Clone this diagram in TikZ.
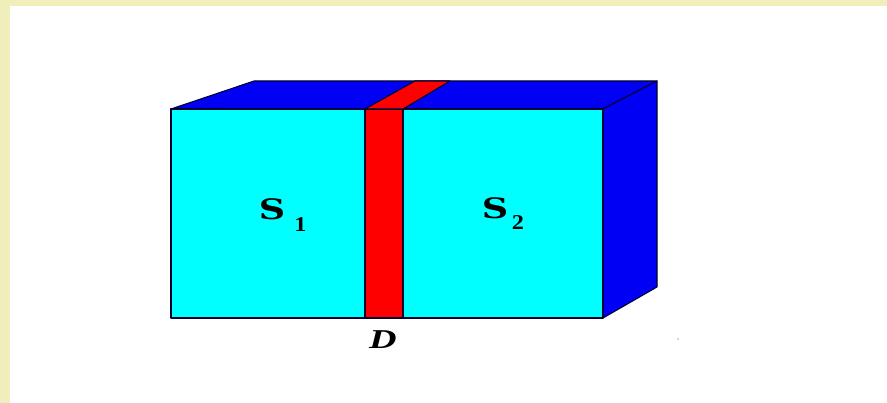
\documentclass[tikz,border=0pt]{standalone}
\usepackage{fontspec}
\setmainfont{DejaVu Serif}
\newfontfamily\labelfont{Liberation Serif}
\usepackage{xcolor}
\definecolor{paper}{RGB}{240,238,186}
\definecolor{facecyan}{RGB}{0,255,255}
\definecolor{faceblue}{RGB}{0,0,245}
\definecolor{facered}{RGB}{255,0,0}
\begin{document}
\begin{tikzpicture}[
    face/.style={draw=black!80!blue, line width=0.6pt, line join=round},
    letter/.style={inner sep=0pt, xscale=1.3, font=\fontsize{16}{16}\selectfont\bfseries},
    index/.style={inner sep=0pt, xscale=1.15, font=\labelfont\fontsize{12}{12}\selectfont\bfseries}]
  \useasboundingbox (0,0) rectangle (17.74,8.06);
  % Paper with its band at the top and left
  \fill[paper] (0,0) rectangle (17.74,8.06);
  \fill[white] (0.2,0) rectangle (17.74,7.94);
  % Slab
  \draw[face, fill=faceblue] (3.42,5.88) -- (5.08,6.44) -- (13.14,6.44) -- (12.06,5.88) -- cycle;
  \draw[face, fill=faceblue] (12.06,5.88) -- (13.14,6.44) -- (13.14,2.32) -- (12.06,1.70) -- cycle;
  \draw[face, fill=facecyan] (3.42,1.70) rectangle (12.06,5.88);
  % Strip between the two sides
  \draw[face, fill=facered] (7.30,1.70) rectangle (8.06,5.88);
  \draw[face, fill=facered] (7.30,5.88) -- (8.30,6.44) -- (9.00,6.44) -- (8.06,5.88) -- cycle;
  % Labels
  \node[letter] (s1) at (5.44,3.88) {S};
  \node[index] (n1) at (6.01,3.56) {1};
  \node[letter] (s2) at (9.90,3.90) {S};
  \node[index] (n2) at (10.36,3.60) {2};
  \node[inner sep=0pt, xscale=1.4, font=\labelfont\fontsize{15.5}{15.5}\selectfont\bfseries\itshape] (d) at (7.66,1.26) {D};
  % Speck right of the slab
  \fill[black!70] (13.56,1.28) circle (0.012);
\end{tikzpicture}
\end{document}
